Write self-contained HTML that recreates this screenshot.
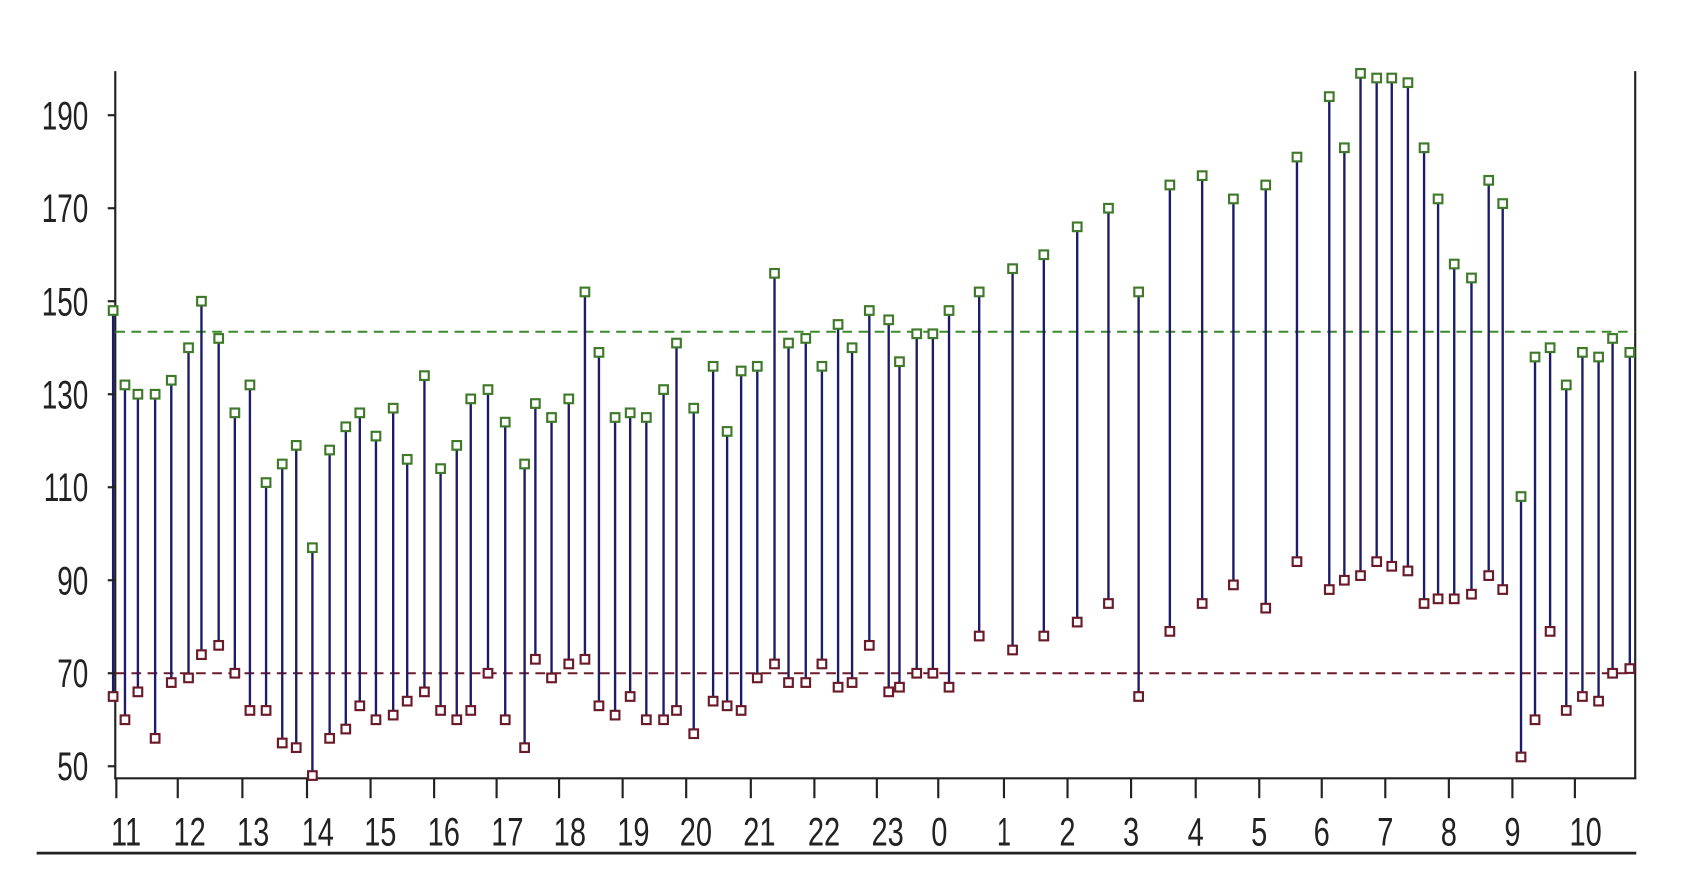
<!DOCTYPE html>
<html><head><meta charset="utf-8"><style>
html,body{margin:0;padding:0;background:#fff;width:1688px;height:886px;overflow:hidden}
svg text{font-family:"Liberation Sans",sans-serif;fill:#222}
</style></head><body>
<svg id="c" width="1688" height="886" viewBox="0 0 1567 822.5" xmlns="http://www.w3.org/2000/svg">
<g font-size="37" text-anchor="end" transform="scale(0.7,1)">
<text x="117" y="120">190</text>
<text x="117" y="206">170</text>
<text x="117" y="293">150</text>
<text x="117" y="379">130</text>
<text x="117" y="465">110</text>
<text x="117" y="552">90</text>
<text x="117" y="638">70</text>
<text x="117" y="724">50</text>
</g>
<line x1="107" y1="66" x2="107" y2="723" stroke="#222" stroke-width="2"/>
<line x1="1518" y1="66" x2="1518" y2="723" stroke="#222" stroke-width="2"/>
<line x1="106" y1="722.5" x2="1519" y2="722.5" stroke="#222" stroke-width="2"/>
<line x1="34" y1="792" x2="1519" y2="792" stroke="#222" stroke-width="2.5"/>
<line x1="107" y1="308" x2="1518" y2="308" stroke="#3a8a2a" stroke-width="1.8" stroke-dasharray="9,6"/>
<line x1="107" y1="625" x2="1518" y2="625" stroke="#6b1a2a" stroke-width="1.8" stroke-dasharray="9,6"/>
<g id="g"></g>
</svg>
<script>
var NS="http://www.w3.org/2000/svg",svg=document.getElementById('c'),g=document.getElementById('g');
function el(t,a,p){var e=document.createElementNS(NS,t);for(var k in a)e.setAttribute(k,a[k]);(p||svg).appendChild(e);return e;}
function Y(v){return 625-(v-70)*4.317;}
[50,70,90,110,130,150,170,190].forEach(function(v){el('line',{x1:100,x2:107,y1:Y(v),y2:Y(v),stroke:'#222','stroke-width':2});});
var tx=[108,165,225,285,344,403,461,519,578,637,697,756,814,871,932,991,1050,1110,1169,1227,1286,1345,1404,1462];
tx.forEach(function(x){el('line',{x1:x,x2:x,y1:723,y2:741,stroke:'#222','stroke-width':2});});
var d=[[105,148,65],[116,132,60],[128,130,66],[144,130,56],[159,133,68],[175,140,69],[187,150,74],[203,142,76],[218,126,70],[232,132,62],[247,111,62],[262,115,55],[275,119,54],[290,97,48],[306,118,56],[321,123,58],[334,126,63],[349,121,60],[365,127,61],[378,116,64],[394,134,66],[409,114,62],[424,119,60],[437,129,62],[453,131,70],[469,124,60],[487,115,54],[497,128,73],[512,125,69],[528,129,72],[543,152,73],[556,139,63],[571,125,61],[585,126,65],[600,125,60],[616,131,60],[628,141,62],[644,127,57],[662,136,64],[675,122,63],[688,135,62],[703,136,69],[719,156,72],[732,141,68],[748,142,68],[763,136,72],[778,145,67],[791,140,68],[807,148,76],[825,146,66],[835,137,67],[851,143,70],[866,143,70],[881,148,67],[909,152,78],[940,157,75],[969,160,78],[1000,166,81],[1029,170,85],[1057,152,65],[1086,175,79],[1116,177,85],[1145,172,89],[1175,175,84],[1204,181,94],[1234,194,88],[1248,183,90],[1263,199,91],[1278,198,94],[1292,198,93],[1307,197,92],[1322,183,85],[1335,172,86],[1350,158,86],[1366,155,87],[1382,176,91],[1395,171,88],[1412,108,52],[1425,138,60],[1439,140,79],[1454,132,62],[1469,139,65],[1484,138,64],[1497,142,70],[1513,139,71]];
d.forEach(function(p){el('line',{x1:p[0],x2:p[0],y1:Y(p[1]),y2:Y(p[2]),stroke:'#1c1c6a','stroke-width':2.2},g);});
d.forEach(function(p){
el('rect',{x:p[0]-4,y:Y(p[1])-4,width:8,height:8,fill:'#fff',stroke:'#3f7a2a','stroke-width':2},g);
el('rect',{x:p[0]-4,y:Y(p[2])-4,width:8,height:8,fill:'#fff',stroke:'#6b1a2a','stroke-width':2},g);});
</script>
<svg width="1688" height="886" viewBox="0 0 1567 822.5" style="position:absolute;left:0;top:0" xmlns="http://www.w3.org/2000/svg">
<g font-family="Liberation Sans, sans-serif" font-size="37" fill="#222" text-anchor="middle">
<text x="117" y="785" textLength="28" lengthAdjust="spacingAndGlyphs">11</text>
<text x="176" y="785" textLength="30" lengthAdjust="spacingAndGlyphs">12</text>
<text x="235" y="785" textLength="30" lengthAdjust="spacingAndGlyphs">13</text>
<text x="295" y="785" textLength="30" lengthAdjust="spacingAndGlyphs">14</text>
<text x="353" y="785" textLength="30" lengthAdjust="spacingAndGlyphs">15</text>
<text x="412" y="785" textLength="30" lengthAdjust="spacingAndGlyphs">16</text>
<text x="471" y="785" textLength="30" lengthAdjust="spacingAndGlyphs">17</text>
<text x="529" y="785" textLength="30" lengthAdjust="spacingAndGlyphs">18</text>
<text x="588" y="785" textLength="30" lengthAdjust="spacingAndGlyphs">19</text>
<text x="646" y="785" textLength="30" lengthAdjust="spacingAndGlyphs">20</text>
<text x="705" y="785" textLength="30" lengthAdjust="spacingAndGlyphs">21</text>
<text x="765" y="785" textLength="30" lengthAdjust="spacingAndGlyphs">22</text>
<text x="824" y="785" textLength="30" lengthAdjust="spacingAndGlyphs">23</text>
<text x="872" y="785" textLength="15" lengthAdjust="spacingAndGlyphs">0</text>
<text x="932" y="785" textLength="13" lengthAdjust="spacingAndGlyphs">1</text>
<text x="991" y="785" textLength="15" lengthAdjust="spacingAndGlyphs">2</text>
<text x="1050" y="785" textLength="15" lengthAdjust="spacingAndGlyphs">3</text>
<text x="1110" y="785" textLength="15" lengthAdjust="spacingAndGlyphs">4</text>
<text x="1169" y="785" textLength="15" lengthAdjust="spacingAndGlyphs">5</text>
<text x="1227" y="785" textLength="15" lengthAdjust="spacingAndGlyphs">6</text>
<text x="1286" y="785" textLength="15" lengthAdjust="spacingAndGlyphs">7</text>
<text x="1345" y="785" textLength="15" lengthAdjust="spacingAndGlyphs">8</text>
<text x="1404" y="785" textLength="15" lengthAdjust="spacingAndGlyphs">9</text>
<text x="1472" y="785" textLength="30" lengthAdjust="spacingAndGlyphs">10</text>
</g>
</svg>
</body></html>
